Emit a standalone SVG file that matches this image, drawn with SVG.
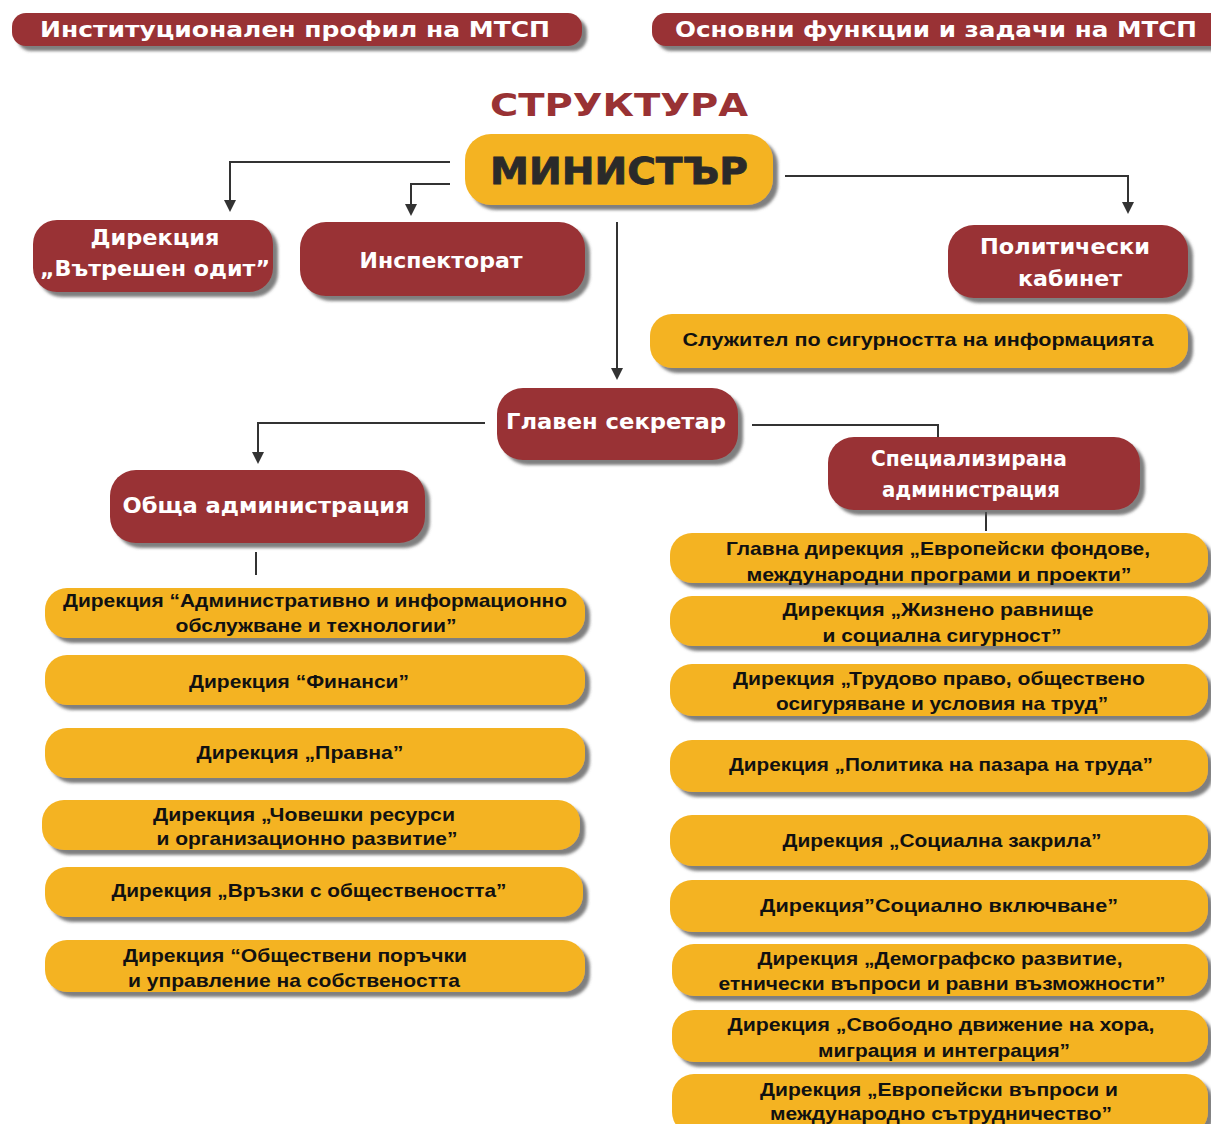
<svg xmlns="http://www.w3.org/2000/svg" width="1211" height="1124" viewBox="0 0 1211 1124">
<style>
.red{fill:#993234;filter:url(#sh)}
.yel{fill:#F4B322;filter:url(#sh)}
.hdr{font-family:"DejaVu Sans",sans-serif;font-weight:bold;fill:#fff;font-size:21px}
.wt{font-family:"DejaVu Sans",sans-serif;font-weight:bold;fill:#fff;font-size:21px;text-anchor:middle}
.bt{font-family:"Liberation Sans",sans-serif;font-weight:bold;fill:#111;font-size:19px;text-anchor:middle}
.ln{fill:none;stroke:#333;stroke-width:2}
</style>
<defs>
<filter id="sh" x="-10%" y="-20%" width="125%" height="150%">
<feDropShadow dx="5" dy="5" stdDeviation="1.5" flood-color="#555" flood-opacity="0.75"/>
</filter>
<marker id="ar" markerWidth="12" markerHeight="12" refX="10" refY="6" orient="auto" markerUnits="userSpaceOnUse" viewBox="0 0 12 12">
<path d="M0,0 L12,6 L0,12 Z" fill="#333"/>
</marker>
</defs>
<rect width="1211" height="1124" fill="#fff"/>

<g id="hdr-left">
<rect class="red" x="12" y="13" width="570" height="33" rx="14"/>
<text class="hdr" x="40" y="37" textLength="510" lengthAdjust="spacingAndGlyphs">Институционален профил на МТСП</text>
</g>
<g id="hdr-right">
<rect class="red" x="652" y="13" width="575" height="33" rx="14"/>
<text class="hdr" x="675" y="37" textLength="522" lengthAdjust="spacingAndGlyphs">Основни функции и задачи на МТСП</text>
</g>
<text id="title" x="490" y="116" textLength="258" lengthAdjust="spacingAndGlyphs" style="font-family:'DejaVu Sans',sans-serif;font-weight:bold;font-size:32px;fill:#993234">СТРУКТУРА</text>

<g id="connectors">
<polyline class="ln" points="450,162 230,162 230,210" marker-end="url(#ar)"/>
<polyline class="ln" points="450,184 411,184 411,214" marker-end="url(#ar)"/>
<polyline class="ln" points="785,176 1128,176 1128,212" marker-end="url(#ar)"/>
<polyline class="ln" points="617,222 617,378" marker-end="url(#ar)"/>
<polyline class="ln" points="485,423 258,423 258,462" marker-end="url(#ar)"/>
<polyline class="ln" points="752,425 938,425 938,437"/>
<polyline class="ln" points="256,552 256,575"/>
<polyline class="ln" points="986,512 986,531"/>
</g>

<g id="minister">
<rect class="yel" x="465" y="134" width="308" height="71" rx="26"/>
<text x="490" y="184" textLength="258" lengthAdjust="spacingAndGlyphs" style="font-family:'DejaVu Sans',sans-serif;font-weight:bold;font-size:37px;fill:#2a2a2a;stroke:#2a2a2a;stroke-width:0.8">МИНИСТЪР</text>
</g>
<g id="audit">
<rect class="red" x="33" y="220" width="240" height="72" rx="24"/>
<text class="wt" x="155" y="245" textLength="129" lengthAdjust="spacingAndGlyphs">Дирекция</text>
<text class="wt" x="155" y="276" textLength="230" lengthAdjust="spacingAndGlyphs">„Вътрешен одит”</text>
</g>
<g id="inspectorate">
<rect class="red" x="300" y="222" width="285" height="74" rx="26"/>
<text class="wt" x="441" y="268" textLength="163" lengthAdjust="spacingAndGlyphs">Инспекторат</text>
</g>
<g id="cabinet">
<rect class="red" x="948" y="225" width="240" height="73" rx="26"/>
<text class="wt" x="1065" y="254" textLength="170" lengthAdjust="spacingAndGlyphs">Политически</text>
<text class="wt" x="1070" y="286" textLength="104" lengthAdjust="spacingAndGlyphs">кабинет</text>
</g>
<g id="security">
<rect class="yel" x="650" y="314" width="538" height="54" rx="22"/>
<text class="bt" x="918" y="346" textLength="471" lengthAdjust="spacingAndGlyphs">Служител по сигурността на информацията</text>
</g>
<g id="secretary">
<rect class="red" x="497" y="388" width="241" height="72" rx="26"/>
<text class="wt" x="616" y="429" textLength="220" lengthAdjust="spacingAndGlyphs">Главен секретар</text>
</g>
<g id="general-admin">
<rect class="red" x="110" y="470" width="315" height="73" rx="26"/>
<text class="wt" x="266" y="513" textLength="287" lengthAdjust="spacingAndGlyphs">Обща администрация</text>
</g>
<g id="special-admin">
<rect class="red" x="828" y="437" width="312" height="73" rx="26"/>
<text class="wt" x="969" y="466" textLength="196" lengthAdjust="spacingAndGlyphs">Специализирана</text>
<text class="wt" x="971" y="497" textLength="178" lengthAdjust="spacingAndGlyphs">администрация</text>
</g>

<g id="l1"><rect class="yel" x="45" y="588" width="540" height="50" rx="22"/>
<text class="bt" x="315" y="607" textLength="504" lengthAdjust="spacingAndGlyphs">Дирекция “Административно и информационно</text>
<text class="bt" x="316" y="632" textLength="281" lengthAdjust="spacingAndGlyphs">обслужване и технологии”</text></g>
<g id="l2"><rect class="yel" x="45" y="655" width="540" height="50" rx="22"/>
<text class="bt" x="299" y="688" textLength="220" lengthAdjust="spacingAndGlyphs">Дирекция “Финанси”</text></g>
<g id="l3"><rect class="yel" x="45" y="728" width="540" height="50" rx="22"/>
<text class="bt" x="300" y="759" textLength="207" lengthAdjust="spacingAndGlyphs">Дирекция „Правна”</text></g>
<g id="l4"><rect class="yel" x="42" y="800" width="538" height="50" rx="22"/>
<text class="bt" x="304" y="821" textLength="302" lengthAdjust="spacingAndGlyphs">Дирекция „Човешки ресурси</text>
<text class="bt" x="307" y="845" textLength="301" lengthAdjust="spacingAndGlyphs">и организационно развитие”</text></g>
<g id="l5"><rect class="yel" x="45" y="867" width="538" height="50" rx="22"/>
<text class="bt" x="309" y="897" textLength="395" lengthAdjust="spacingAndGlyphs">Дирекция „Връзки с обществеността”</text></g>
<g id="l6"><rect class="yel" x="45" y="940" width="540" height="52" rx="22"/>
<text class="bt" x="295" y="962" textLength="344" lengthAdjust="spacingAndGlyphs">Дирекция “Обществени поръчки</text>
<text class="bt" x="294" y="987" textLength="332" lengthAdjust="spacingAndGlyphs">и управление на собствеността</text></g>

<g id="r1"><rect class="yel" x="670" y="533" width="538" height="50" rx="22"/>
<text class="bt" x="938" y="555" textLength="424" lengthAdjust="spacingAndGlyphs">Главна дирекция „Европейски фондове,</text>
<text class="bt" x="939" y="581" textLength="385" lengthAdjust="spacingAndGlyphs">международни програми и проекти”</text></g>
<g id="r2"><rect class="yel" x="670" y="596" width="538" height="50" rx="22"/>
<text class="bt" x="938" y="616" textLength="311" lengthAdjust="spacingAndGlyphs">Дирекция „Жизнено равнище</text>
<text class="bt" x="942" y="642" textLength="239" lengthAdjust="spacingAndGlyphs">и социална сигурност”</text></g>
<g id="r3"><rect class="yel" x="670" y="664" width="538" height="52" rx="22"/>
<text class="bt" x="939" y="685" textLength="412" lengthAdjust="spacingAndGlyphs">Дирекция „Трудово право, обществено</text>
<text class="bt" x="942" y="710" textLength="332" lengthAdjust="spacingAndGlyphs">осигуряване и условия на труд”</text></g>
<g id="r4"><rect class="yel" x="670" y="740" width="538" height="52" rx="22"/>
<text class="bt" x="941" y="771" textLength="424" lengthAdjust="spacingAndGlyphs">Дирекция „Политика на пазара на труда”</text></g>
<g id="r5"><rect class="yel" x="670" y="815" width="538" height="51" rx="22"/>
<text class="bt" x="942" y="847" textLength="319" lengthAdjust="spacingAndGlyphs">Дирекция „Социална закрила”</text></g>
<g id="r6"><rect class="yel" x="670" y="880" width="538" height="52" rx="22"/>
<text class="bt" x="939" y="912" textLength="358" lengthAdjust="spacingAndGlyphs">Дирекция”Социално включване”</text></g>
<g id="r7"><rect class="yel" x="672" y="944" width="536" height="52" rx="22"/>
<text class="bt" x="940" y="965" textLength="365" lengthAdjust="spacingAndGlyphs">Дирекция „Демографско развитие,</text>
<text class="bt" x="942" y="990" textLength="447" lengthAdjust="spacingAndGlyphs">етнически въпроси и равни възможности”</text></g>
<g id="r8"><rect class="yel" x="672" y="1010" width="536" height="52" rx="22"/>
<text class="bt" x="941" y="1031" textLength="427" lengthAdjust="spacingAndGlyphs">Дирекция „Свободно движение на хора,</text>
<text class="bt" x="944" y="1057" textLength="252" lengthAdjust="spacingAndGlyphs">миграция и интеграция”</text></g>
<g id="r9"><rect class="yel" x="672" y="1074" width="536" height="60" rx="22"/>
<text class="bt" x="939" y="1096" textLength="358" lengthAdjust="spacingAndGlyphs">Дирекция „Европейски въпроси и</text>
<text class="bt" x="941" y="1120" textLength="342" lengthAdjust="spacingAndGlyphs">международно сътрудничество”</text></g>
</svg>
